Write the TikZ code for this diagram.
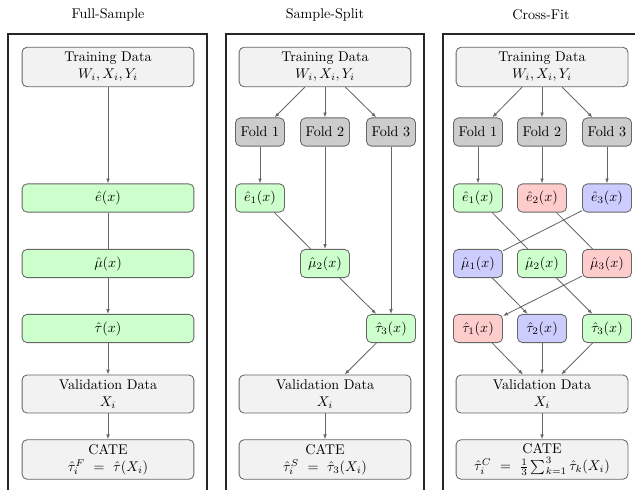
\documentclass[tikz,border=0pt]{standalone}
\usetikzlibrary{arrows.meta}
\definecolor{nodegray}{HTML}{F2F2F2}
\definecolor{foldgray}{HTML}{CCCCCC}
\definecolor{ngreen}{HTML}{CCFFCC}
\definecolor{nred}{HTML}{FFCCCC}
\definecolor{nblue}{HTML}{CCCCFF}
\definecolor{edgegray}{HTML}{666666}
\begin{document}
\begin{tikzpicture}[x=0.71pt,y=-0.71pt,
 box/.style={draw=edgegray, line width=0.6pt, rounded corners=3.5pt, align=center, inner sep=1pt},
 wide/.style={box, minimum width=122pt, minimum height=28pt, fill=nodegray},
 widemodel/.style={box, minimum width=122pt, minimum height=20pt, fill=ngreen},
 small/.style={box, minimum width=34.8pt, minimum height=20pt},
 fold/.style={small, fill=foldgray},
 arr/.style={draw=edgegray, line width=0.6pt, -{Latex[length=3.5pt,width=2.6pt]}},
 ln/.style={draw=edgegray, line width=0.6pt},
 frame/.style={draw=black!85, line width=1pt},
 title/.style={inner sep=0pt}]
\useasboundingbox (0,0) rectangle (635,490);
\clip (0,0) rectangle (635,490);
% titles
\node[title] (t1) at (108,15) {Full-Sample};
\node[title] (t2) at (325,15) {Sample-Split};
\node[title] (t3) at (541,15) {Cross-Fit};
% frames
\draw[frame] (8,500) -- (8,34) -- (207,34) -- (207,500);
\draw[frame] (226,500) -- (226,34) -- (424,34) -- (424,500);
\draw[frame] (443,500) -- (443,34) -- (650,34) -- (650,500);

% ---------- Full-Sample ----------
\node[wide] (aT) at (108,67) {Training Data\\$W_i, X_i, Y_i$};
\node[widemodel] (aE) at (108,198) {$\hat{e}(x)$};
\node[widemodel] (aM) at (108,263.5) {$\hat{\mu}(x)$};
\node[widemodel] (aU) at (108,328.5) {$\hat{\tau}(x)$};
\node[wide, minimum height=27pt] (aV) at (108,394) {Validation Data\\$X_i$};
\node[wide] (aC) at (108,459.5) {CATE\\$\hat{\tau}_i^F \ = \ \hat{\tau}(X_i)$};
\draw[arr] (aT) -- (aE);
\draw[ln] (aE) -- (aM);
\draw[arr] (aM) -- (aU);
\draw[arr] (aU) -- (aV);
\draw[arr] (aV) -- (aC);

% ---------- Sample-Split ----------
\node[wide] (bT) at (325,67) {Training Data\\$W_i, X_i, Y_i$};
\node[fold] (bF1) at (260,132) {Fold 1};
\node[fold] (bF2) at (325,132) {Fold 2};
\node[fold] (bF3) at (391,132) {Fold 3};
\node[small, fill=ngreen] (bE1) at (260,198) {$\hat{e}_1(x)$};
\node[small, fill=ngreen] (bM2) at (325,263.5) {$\hat{\mu}_2(x)$};
\node[small, fill=ngreen] (bU3) at (391,328.5) {$\hat{\tau}_3(x)$};
\node[wide, minimum height=27pt] (bV) at (325,394) {Validation Data\\$X_i$};
\node[wide] (bC) at (325,459.5) {CATE\\$\hat{\tau}_i^S \ = \ \hat{\tau}_3(X_i)$};
\draw[arr] (bT) -- (bF1);
\draw[arr] (bT) -- (bF2);
\draw[arr] (bT) -- (bF3);
\draw[arr] (bF1) -- (bE1);
\draw[arr] (bF2) -- (bM2);
\draw[arr] (bF3) -- (bU3);
\draw[ln] (bE1) -- (bM2);
\draw[arr] (bM2) -- (bU3);
\draw[arr] (bU3) -- (bV);
\draw[arr] (bV) -- (bC);

% ---------- Cross-Fit ----------
\node[wide] (cT) at (542,67) {Training Data\\$W_i, X_i, Y_i$};
\node[fold] (cF1) at (478,132) {Fold 1};
\node[fold] (cF2) at (542,132) {Fold 2};
\node[fold] (cF3) at (607,132) {Fold 3};
\node[small, fill=ngreen] (cE1) at (478,198) {$\hat{e}_1(x)$};
\node[small, fill=nred]   (cE2) at (542,198) {$\hat{e}_2(x)$};
\node[small, fill=nblue]  (cE3) at (607,198) {$\hat{e}_3(x)$};
\node[small, fill=nblue]  (cM1) at (478,263.5) {$\hat{\mu}_1(x)$};
\node[small, fill=ngreen] (cM2) at (542,263.5) {$\hat{\mu}_2(x)$};
\node[small, fill=nred]   (cM3) at (607,263.5) {$\hat{\mu}_3(x)$};
\node[small, fill=nred]   (cU1) at (478,328.5) {$\hat{\tau}_1(x)$};
\node[small, fill=nblue]  (cU2) at (542,328.5) {$\hat{\tau}_2(x)$};
\node[small, fill=ngreen] (cU3) at (607,328.5) {$\hat{\tau}_3(x)$};
\node[wide, minimum height=27pt] (cV) at (542,394) {Validation Data\\$X_i$};
\node[wide] (cC) at (542,459.5) {CATE\\$\hat{\tau}_i^C \ = \ \frac{1}{3}\sum_{k=1}^{3}\hat{\tau}_k(X_i)$};
\draw[arr] (cT) -- (cF1);
\draw[arr] (cT) -- (cF2);
\draw[arr] (cT) -- (cF3);
\draw[arr] (cF1) -- (cE1);
\draw[arr] (cF2) -- (cE2);
\draw[arr] (cF3) -- (cE3);
\draw[ln] (cE1) -- (cM2);
\draw[ln] (cE2) -- (cM3);
\draw[ln] (cE3) -- (cM1);
\draw[arr] (cM1) -- (cU2);
\draw[arr] (cM2) -- (cU3);
\draw[arr] (cM3) -- (cU1);
\draw[arr] (cU1) -- (cV);
\draw[arr] (cU2) -- (cV);
\draw[arr] (cU3) -- (cV);
\draw[arr] (cV) -- (cC);
\end{tikzpicture}
\end{document}
